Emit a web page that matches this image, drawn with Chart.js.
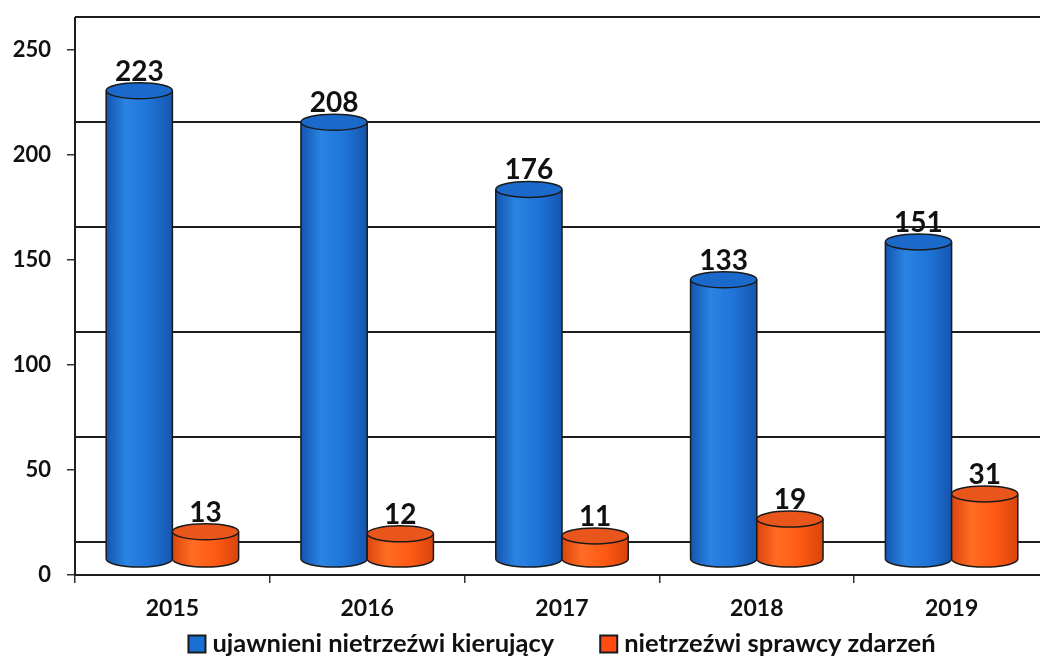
<!DOCTYPE html>
<html>
<head>
<meta charset="utf-8">
<script src="https://cdn.jsdelivr.net/npm/chart.js@4/dist/chart.umd.min.js"></script>
<style>
  html, body { margin: 0; padding: 0; background: #fff; overflow: hidden; width: 1040px; height: 656px; }
  #wrap { position: absolute; left: 0; top: 0; width: 1049px; height: 656px; }
</style>
</head>
<body>
<div id="wrap"><canvas id="c" width="1049" height="656"></canvas></div>
<script>
// ---- data ----
const categories = ['2015', '2016', '2017', '2018', '2019'];
const drivers = [223, 208, 176, 133, 151];      // ujawnieni nietrzeźwi kierujący
const offenders = [13, 12, 11, 19, 31];         // nietrzeźwi sprawcy zdarzeń
const seriesNames = ['ujawnieni nietrzeźwi kierujący', 'nietrzeźwi sprawcy zdarzeń'];
const yTicks = [0, 50, 100, 150, 200, 250];

// ---- style ----
const FONT = 'Lato, "Open Sans", sans-serif';
const WALL_DEPTH = 33;   // pixel shift of the back wall
const BAR_DEPTH = 16;    // pixel shift of cylinder centres
const ELL_RY = 8;
const palettes = [
  { side: ['#1455b0', '#2a84e2', '#1f74d8', '#1556ae'], top: '#1b6acb', legend: '#1a6fd6' },
  { side: ['#dc460e', '#ff6c24', '#ff5a14', '#d8430c'], top: '#e8561c', legend: '#ff4a10' }
];

const cylinderPlugin = {
  id: 'cylinders',
  beforeDatasetsDraw(chart) {
    const { ctx, chartArea, scales } = chart;
    const y = scales.y;
    ctx.save();
    // back wall grid lines
    ctx.strokeStyle = '#1e1e1e';
    ctx.lineWidth = 2;
    yTicks.forEach(v => {
      const py = Math.round(y.getPixelForValue(v) - WALL_DEPTH);
      ctx.beginPath();
      ctx.moveTo(chartArea.left, py);
      ctx.lineTo(chartArea.right + 5, py);
      ctx.stroke();
    });
    // left wall edge
    ctx.beginPath();
    ctx.moveTo(chartArea.left, Math.round(y.getPixelForValue(yTicks[yTicks.length - 1]) - WALL_DEPTH));
    ctx.lineTo(chartArea.left, chartArea.bottom);
    ctx.stroke();

    // cylinders
    chart.data.datasets.forEach((ds, di) => {
      const meta = chart.getDatasetMeta(di);
      const pal = palettes[di];
      meta.data.forEach((el, i) => {
        const v = ds.data[i];
        const cx = el.x;
        const rx = el.width / 2;
        const top = y.getPixelForValue(v) - BAR_DEPTH;
        const base = y.getPixelForValue(0) - BAR_DEPTH;
        const g = ctx.createLinearGradient(cx - rx, 0, cx + rx, 0);
        g.addColorStop(0, pal.side[0]);
        g.addColorStop(0.3, pal.side[1]);
        g.addColorStop(0.65, pal.side[2]);
        g.addColorStop(1, pal.side[3]);
        const body = () => {
          ctx.beginPath();
          ctx.moveTo(cx - rx, top);
          ctx.lineTo(cx - rx, base);
          ctx.ellipse(cx, base, rx, ELL_RY, 0, Math.PI, 0, true);
          ctx.lineTo(cx + rx, top);
        };
        body();
        ctx.closePath();
        ctx.fillStyle = g;
        ctx.fill();
        ctx.lineWidth = 1.5;
        ctx.strokeStyle = '#1a1a1a';
        body();
        ctx.stroke();
        // top
        ctx.beginPath();
        ctx.ellipse(cx, top, rx, ELL_RY, 0, 0, Math.PI * 2);
        ctx.fillStyle = pal.top;
        ctx.fill();
        ctx.stroke();
        // value label
        ctx.fillStyle = '#111';
        ctx.font = 'bold 28px ' + FONT;
        ctx.textAlign = 'center';
        ctx.textBaseline = 'alphabetic';
        ctx.fillText(String(v), cx, top - ELL_RY - 2);
      });
    });
    ctx.restore();
    return false; // cylinders replace the flat bars
  }
};

// legend drawn below the axis labels, centred under the plot area
const legendPlugin = {
  id: 'bottomLegend',
  afterDraw(chart) {
    const { ctx, chartArea } = chart;
    const box = 17, gapText = 7, gapItem = 46;
    ctx.save();
    ctx.font = 'bold 25.5px ' + FONT;
    const items = chart.data.datasets.map((ds, i) => ({ text: ds.label, color: palettes[i].legend, w: ctx.measureText(ds.label).width }));
    const total = items.reduce((s, it) => s + box + gapText + it.w, 0) + gapItem * (items.length - 1);
    let x = (chartArea.left + chartArea.right) / 2 - total / 2;
    const cy = chartArea.bottom + 69;
    items.forEach(it => {
      ctx.fillStyle = it.color;
      ctx.fillRect(x, cy - box / 2, box, box);
      ctx.lineWidth = 2;
      ctx.strokeStyle = '#1a1a1a';
      ctx.strokeRect(x, cy - box / 2, box, box);
      ctx.fillStyle = '#111';
      ctx.textAlign = 'left';
      ctx.textBaseline = 'middle';
      ctx.fillText(it.text, x + box + gapText, cy);
      x += box + gapText + it.w + gapItem;
    });
    ctx.restore();
  }
};

const AXIS_BOTTOM = 575;

new Chart(document.getElementById('c'), {
  type: 'bar',
  data: {
    labels: categories,
    datasets: [
      { label: seriesNames[0], data: drivers, backgroundColor: palettes[0].legend },
      { label: seriesNames[1], data: offenders, backgroundColor: palettes[1].legend }
    ]
  },
  options: {
    responsive: false,
    devicePixelRatio: 1,
    animation: false,
    events: [],
    layout: { padding: { top: 50, left: 0, right: 0, bottom: 0 } },
    datasets: { bar: { categoryPercentage: 0.68, barPercentage: 1.0 } },
    scales: {
      x: {
        afterFit(axis) { axis.height = axis.chart.height - AXIS_BOTTOM; },
        grid: { drawOnChartArea: false, drawTicks: true, tickLength: 8, color: '#333', lineWidth: 1.5, offset: true },
        border: { display: true, color: '#1e1e1e', width: 2 },
        ticks: { color: '#111', font: { family: FONT, size: 23, weight: 'bold' }, padding: 12 }
      },
      y: {
        min: 0, max: 250,
        afterFit(axis) { axis.width = 75; },
        afterBuildTicks(axis) { axis.ticks = yTicks.map(v => ({ value: v })); },
        grid: { drawOnChartArea: false, drawTicks: true, tickLength: 8, color: '#333', lineWidth: 1.5 },
        border: { display: true, color: '#1e1e1e', width: 2 },
        ticks: { color: '#111', font: { family: FONT, size: 22, weight: 'bold' }, padding: 16 }
      }
    },
    plugins: {
      legend: { display: false },
      tooltip: { enabled: false }
    }
  },
  plugins: [cylinderPlugin, legendPlugin]
});
</script>
</body>
</html>
